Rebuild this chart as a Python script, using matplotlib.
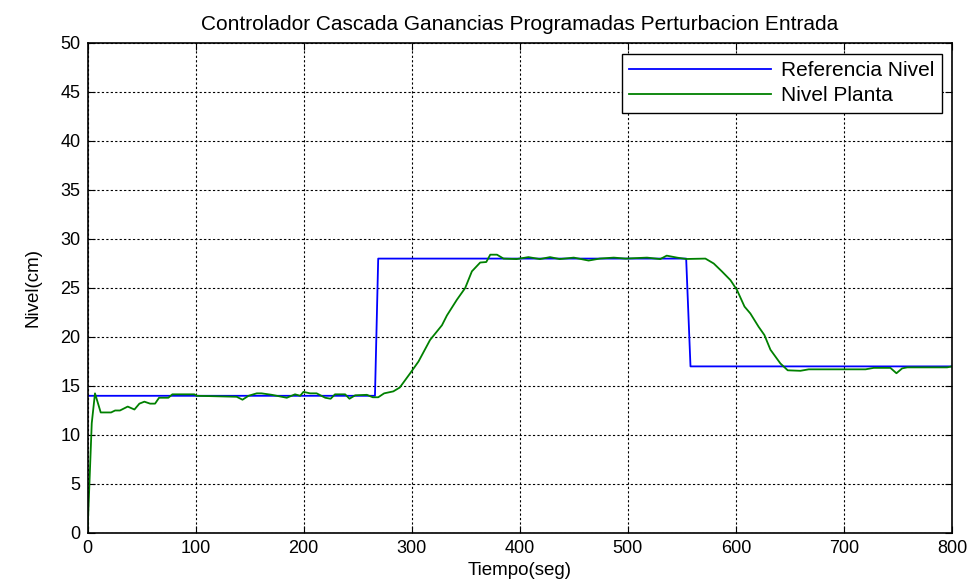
import matplotlib
matplotlib.use("Agg")
import matplotlib.pyplot as plt

plt.rcParams['font.family'] = ['Liberation Sans', 'DejaVu Sans']

# referencia de nivel
t_ref = [0, 266, 269, 554, 558, 800]
nivel_ref = [14, 14, 28, 28, 17, 17]

# nivel de la planta
t_planta = [0, 3.9, 6.9, 12.2, 21.8, 25.5, 30, 37.2, 43.4, 48, 52.6, 57.9, 62.5,
            66.2, 74.8, 78.5, 98.9, 101, 138, 143.4, 149, 156.6, 161, 170.5, 184.4,
            192, 196.8, 199.8, 206, 212, 220, 225, 229, 238.4, 242.4, 247.7, 258.5,
            264, 269, 274.5, 283, 289, 298.6, 306.3, 317, 328, 332.6, 341.8, 349.5,
            355.7, 363.4, 369, 372.7, 378.9, 385, 397, 408, 418.6, 428, 437, 450,
            463.7, 474, 487, 498, 517.8, 530, 536, 545.5, 554, 571.8, 579.5, 587,
            595, 601, 608, 613.4, 621, 626.4, 632, 641.2, 648, 659.7, 667.4, 696,
            720, 727.6, 743, 748.6, 753.9, 758.6, 795.5, 800]
nivel_planta = [0, 11.2, 14.25, 12.3, 12.3, 12.5, 12.5, 12.9, 12.6, 13.2, 13.4, 13.2, 13.2,
                13.8, 13.8, 14.15, 14.15, 14.0, 13.9, 13.6, 14.0, 14.25, 14.25, 14.1, 13.8,
                14.15, 14.0, 14.4, 14.25, 14.25, 13.8, 13.7, 14.15, 14.15, 13.7, 14.05, 14.1,
                13.85, 13.85, 14.25, 14.45, 14.85, 16.3, 17.5, 19.7, 21.2, 22.2, 23.8, 25.0,
                26.7, 27.6, 27.65, 28.4, 28.4, 28.0, 27.95, 28.15, 27.95, 28.15, 27.95, 28.1,
                27.8, 28.0, 28.1, 28.0, 28.1, 27.95, 28.3, 28.1, 27.96, 28.0, 27.5, 26.7,
                25.8, 24.8, 23.1, 22.4, 21.05, 20.2, 18.7, 17.3, 16.6, 16.55, 16.7, 16.7,
                16.7, 16.85, 16.85, 16.3, 16.8, 16.9, 16.9, 17.0]

fig = plt.figure(figsize=(9.78, 5.85), dpi=100)
ax = fig.add_axes([0.0895, 0.0889, 0.8839, 0.8376])

ax.plot(t_ref, nivel_ref, color='#0000ff', lw=1.3, label='Referencia Nivel')
ax.plot(t_planta, nivel_planta, color='#008000', lw=1.3, label='Nivel Planta')

ax.set_xlim(0, 800)
ax.set_ylim(0, 50)
ax.set_xticks(range(0, 801, 100))
ax.set_yticks(range(0, 51, 5))
ax.grid(True, color='black', linestyle=(0, (2, 2)), lw=0.8)
ax.tick_params(direction='in', length=5, labelsize=13, pad=5, top=True, right=True)
for s in ax.spines.values():
    s.set_linewidth(1.2)

ax.set_title('Controlador Cascada Ganancias Programadas Perturbacion Entrada',
             fontsize=15, pad=9)
ax.set_xlabel('Tiempo(seg)', fontsize=13.5, labelpad=4)
ax.set_ylabel('Nivel(cm)', fontsize=13.5, labelpad=14)

leg = ax.legend(loc='upper right', fontsize=15, fancybox=False, framealpha=1,
                edgecolor='black', handlelength=6.8, handletextpad=0.5,
                borderpad=0.35, labelspacing=0.3, borderaxespad=0,
                bbox_to_anchor=(0.988, 0.978))
leg.get_frame().set_linewidth(1.0)

fig.savefig('out.png', dpi=100)
